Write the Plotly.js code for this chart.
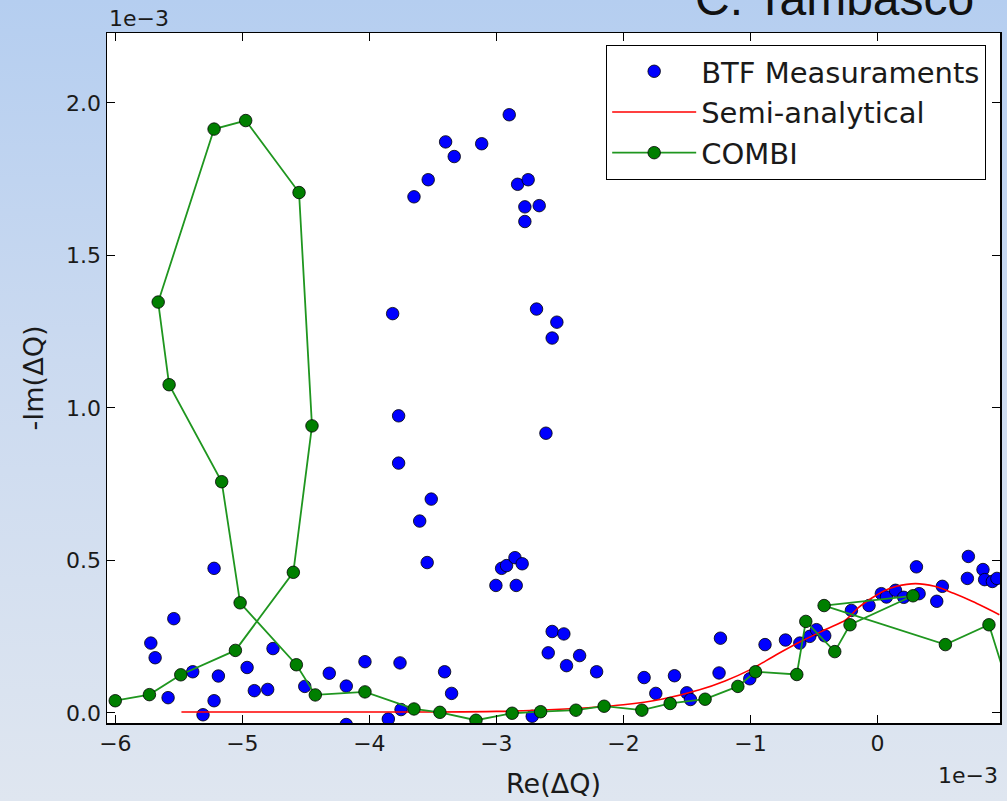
<!DOCTYPE html>
<html>
<head>
<meta charset="utf-8">
<script src="https://cdn.plot.ly/plotly-3.0.1.min.js"></script>
<style>
  html, body { margin: 0; padding: 0; }
  body { width: 1007px; height: 801px; overflow: hidden;
         background: linear-gradient(to bottom, #b5cef0 0%, #cbdaf0 45%, #dfe6f0 100%); }
  #chart { width: 1007px; height: 801px; }
</style>
</head>
<body>
<div id="chart"></div>
<script>
// Values in units of 1e-3 (as shown by the axis multipliers)
const btfRe = [
  -2.899, -3.400, -3.116, -3.332, -3.537, -3.649, -2.833, -2.750, -2.776, -2.663, -2.776,
  -3.817, -2.684, -2.524, -2.561,
  -3.770, -3.770, -3.513, -3.604, -3.545, -2.610, -3.004, -2.959, -2.920, -2.854, -2.797, -2.844,
  -5.223, -5.540, -5.721, -5.687, -5.391, -5.585, -5.189, -5.223, -5.310, -4.963, -4.906, -4.801,
  -4.759, -4.509, -4.316, -4.182, -4.035, -4.182, -3.851, -3.759, -3.751, -3.408, -3.353, -2.718,
  -2.561, -2.469, -2.592, -2.448, -2.345, -2.211, -1.837, -1.745, -1.598, -1.501, -1.472, -1.236,
  -1.247, -1.005, -0.885, -0.724, -0.611, -0.533, -0.480, -0.415, -0.205, -0.066, 0.031, 0.071,
  0.142, 0.207, 0.307, 0.328, 0.467, 0.511, 0.716, 0.708, 0.831, 0.844, 0.905, 0.941
];
const btfIm = [
  1.961, 1.872, 1.866, 1.824, 1.748, 1.692, 1.733, 1.748, 1.659, 1.663, 1.611,
  1.309, 1.324, 1.281, 1.229,
  0.974, 0.819, 0.701, 0.629, 0.493, 0.917, 0.418, 0.474, 0.483, 0.509, 0.489, 0.418,
  0.474, 0.309, 0.229, 0.181, 0.135, 0.050, 0.121, 0.040, -0.006, 0.149, 0.073, 0.077,
  0.211, 0.087, 0.130, 0.088, 0.168, -0.038, -0.020, 0.164, 0.011, 0.135, 0.064, -0.011,
  0.267, 0.259, 0.197, 0.155, 0.188, 0.135, 0.116, 0.064, 0.122, 0.066, 0.044, 0.245,
  0.131, 0.112, 0.224, 0.239, 0.229, 0.251, 0.273, 0.253, 0.336, 0.352, 0.391, 0.380,
  0.402, 0.379, 0.479, 0.391, 0.366, 0.415, 0.513, 0.441, 0.470, 0.437, 0.431, 0.441
];

const semiRe = [-5.48, -4.5, -3.5, -3.0, -2.5, -2.0, -1.7, -1.4, -1.2, -1.0, -0.8, -0.6, -0.4,
  -0.25, -0.15, -0.05, 0.05, 0.15, 0.3, 0.45, 0.6, 0.75, 0.96];
const semiIm = [0.003, 0.003, 0.003, 0.005, 0.012, 0.027, 0.045, 0.076, 0.105, 0.142, 0.19, 0.235, 0.275,
  0.305, 0.345, 0.375, 0.40, 0.415, 0.424, 0.415, 0.392, 0.365, 0.322];

const combiRe = [-6.001, -5.732, -5.485, -5.055, -4.599, -4.452, -4.554, -4.974, -5.223, -5.663,
  -5.577, -5.163, -5.018, -4.575, -4.426, -4.035, -3.649, -3.445, -3.161, -2.876, -2.652, -2.374,
  -2.152, -1.855, -1.632, -1.357, -1.099, -0.960, -0.635, -0.564, -0.336, -0.216, 0.280, -0.420,
  0.535, 0.878, 1.05];
const combiIm = [0.040, 0.060, 0.125, 0.205, 0.461, 0.941, 1.706, 1.942, 1.914, 1.347,
  1.076, 0.758, 0.361, 0.158, 0.059, 0.069, 0.013, 0.002, -0.024, -0.001, 0.004, 0.009,
  0.022, 0.009, 0.031, 0.045, 0.087, 0.135, 0.126, 0.300, 0.201, 0.289, 0.384, 0.352,
  0.224, 0.289, 0.06];

const seriesNames = ['BTF Measuraments', 'Semi-analytical', 'COMBI'];
const xTitle = 'Re(ΔQ)';
const yTitle = '-Im(ΔQ)';
const multiplier = '1e\u22123';
const author = 'C. Tambasco';

const FONT = 'DejaVu Sans, Bitstream Vera Sans, sans-serif';

const traces = [
  {
    x: btfRe, y: btfIm, type: 'scatter', mode: 'markers', name: seriesNames[0],
    legendgroup: 'a',
    marker: { color: '#0000ff', size: 12.5, line: { color: '#000000', width: 0.8 } }
  },
  {
    x: semiRe, y: semiIm, type: 'scatter', mode: 'lines', name: seriesNames[1],
    legendgroup: 'b',
    line: { color: '#ff0000', width: 1.6, shape: 'spline', smoothing: 0.8 }
  },
  {
    x: combiRe, y: combiIm, type: 'scatter', mode: 'lines+markers', name: seriesNames[2],
    legendgroup: 'c',
    line: { color: '#1f961f', width: 1.8 },
    marker: { color: '#007f00', size: 12.5, line: { color: '#000000', width: 0.8 } }
  }
];

const axisCommon = {
  showgrid: false, zeroline: false, showline: true, linecolor: '#000000', linewidth: 1.5,
  mirror: 'ticks', ticks: 'inside', ticklen: 8, tickwidth: 1, tickcolor: '#000000',
  tickfont: { family: FONT, size: 22, color: '#1a1a1a' }
};

const layout = {
  width: 1007, height: 801,
  paper_bgcolor: 'rgba(0,0,0,0)', plot_bgcolor: '#ffffff',
  margin: { l: 107, r: 7, t: 33, b: 78 },
  showlegend: true,
  font: { family: FONT, color: '#1a1a1a' },
  xaxis: Object.assign({}, axisCommon, {
    range: [-6.066, 0.965], dtick: 1, tick0: 0,
    title: { text: xTitle, font: { family: FONT, size: 27, color: '#1a1a1a' }, standoff: 19 }
  }),
  yaxis: Object.assign({}, axisCommon, {
    range: [-0.033, 2.229], dtick: 0.5, tick0: 0, tickformat: '.1f',
    title: { text: yTitle, font: { family: FONT, size: 27, color: '#1a1a1a' }, standoff: 14 }
  }),
  legend: {
    x: 0.9843, xanchor: 'right', y: 0.983, yanchor: 'top',
    bgcolor: '#ffffff', bordercolor: '#000000', borderwidth: 1.2,
    font: { family: FONT, size: 29, color: '#1a1a1a' },
    itemwidth: 84, tracegroupgap: 0
  },
  annotations: [
    { text: multiplier, xref: 'paper', yref: 'paper', x: 0, y: 1, xanchor: 'left', yanchor: 'bottom',
      yshift: 0, showarrow: false, font: { family: FONT, size: 22, color: '#1a1a1a' } },
    { text: multiplier, xref: 'paper', yref: 'paper', x: 1, y: 0, xanchor: 'right', yanchor: 'top',
      yshift: -38, showarrow: false, font: { family: FONT, size: 22, color: '#1a1a1a' } },
    { text: author, xref: 'paper', yref: 'paper', x: 0.973, y: 1, xanchor: 'right', yanchor: 'bottom',
      yshift: 6, showarrow: false, font: { family: 'Liberation Sans, Arial, sans-serif', size: 48, color: '#111111' } }
  ]
};

Plotly.newPlot('chart', traces, layout, { staticPlot: true });
</script>
</body>
</html>
